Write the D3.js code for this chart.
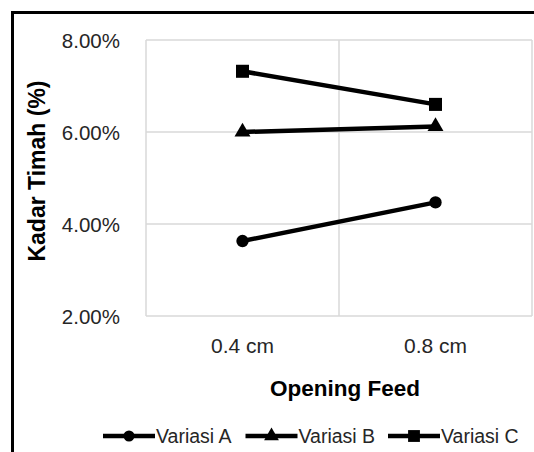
<!DOCTYPE html>
<html>
<head>
<meta charset="utf-8">
<script src="https://cdn.jsdelivr.net/npm/d3@7"></script>
<style>
  html, body { margin: 0; padding: 0; background: #fff; }
  svg { display: block; font-family: "Liberation Sans", Arial, sans-serif; }
</style>
</head>
<body>
<svg id="chart" width="534" height="452"></svg>
<script>
// Tin content (%) by feed opening, three trial variations
const categories = ["0.4 cm", "0.8 cm"];
const variasiA = [3.63, 4.47];
const variasiB = [6.00, 6.12];
const variasiC = [7.32, 6.60];
const seriesNames = ["Variasi A", "Variasi B", "Variasi C"];
const yTicks = [2, 4, 6, 8];

const series = [
  { name: seriesNames[0], values: variasiA, symbol: d3.symbolCircle, size: 120, legendSize: 95 },
  { name: seriesNames[1], values: variasiB, symbol: d3.symbolTriangle, size: 110, legendSize: 95 },
  { name: seriesNames[2], values: variasiC, symbol: d3.symbolSquare, size: 170, legendSize: 140 }
];

const svg = d3.select("#chart");
const plot = { left: 146, top: 40, right: 532, bottom: 316 };

const x = d3.scaleBand().domain(categories).range([plot.left, plot.right]);
const y = d3.scaleLinear().domain([2, 8]).range([plot.bottom, plot.top]);

// outer frame (runs off the right and bottom edges)
svg.append("rect")
  .attr("x", 12.5).attr("y", 12.5)
  .attr("width", 700).attr("height", 700)
  .attr("fill", "none").attr("stroke", "#000").attr("stroke-width", 3);

// gridlines
const grid = svg.append("g").attr("stroke", "#d9d9d9").attr("stroke-width", 1.5);
grid.selectAll("line.h").data(yTicks).join("line")
  .attr("x1", plot.left).attr("x2", plot.right)
  .attr("y1", d => y(d)).attr("y2", d => y(d));
const vLines = [plot.left, ...categories.slice(1).map(c => x(c)), plot.right];
grid.selectAll("line.v").data(vLines).join("line")
  .attr("x1", d => d).attr("x2", d => d)
  .attr("y1", plot.top).attr("y2", plot.bottom);

// y axis labels
const yAxis = svg.append("g")
  .attr("transform", `translate(${plot.left - 26},0)`)
  .call(d3.axisLeft(y).tickValues(yTicks).tickSize(0).tickFormat(d => d3.format(".2f")(d) + "%"));
yAxis.select(".domain").remove();
yAxis.selectAll("text")
  .attr("font-family", "Liberation Sans, Arial, sans-serif")
  .attr("font-size", 20.5).attr("fill", "#262626").attr("dy", "0.35em").attr("x", 0);

// x axis labels
const xAxis = svg.append("g")
  .attr("transform", `translate(0,${plot.bottom + 22})`)
  .call(d3.axisBottom(x).tickSize(0));
xAxis.select(".domain").remove();
xAxis.selectAll("text")
  .attr("font-family", "Liberation Sans, Arial, sans-serif")
  .attr("font-size", 21).attr("fill", "#262626").attr("dy", "0.71em").attr("y", 0);

// axis titles
svg.append("text")
  .attr("x", 345).attr("y", 396)
  .attr("text-anchor", "middle")
  .attr("font-size", 22.5).attr("font-weight", "bold").attr("fill", "#000")
  .text("Opening Feed");

svg.append("text")
  .attr("transform", "translate(45,171) rotate(-90)")
  .attr("text-anchor", "middle")
  .attr("font-size", 23).attr("font-weight", "bold").attr("fill", "#000")
  .text("Kadar Timah (%)");

// series lines and markers
const cx = c => x(c) + x.bandwidth() / 2;
const line = d3.line().x(d => cx(d.cat)).y(d => y(d.v));

series.forEach(s => {
  const pts = s.values.map((v, i) => ({ cat: categories[i], v }));
  svg.append("path")
    .datum(pts)
    .attr("d", line)
    .attr("fill", "none").attr("stroke", "#000").attr("stroke-width", 4.5);
  svg.selectAll(null).data(pts).join("path")
    .attr("d", d3.symbol().type(s.symbol).size(s.size))
    .attr("transform", d => `translate(${cx(d.cat)},${y(d.v)})`)
    .attr("fill", "#000");
});

// legend
const legend = svg.append("g").attr("transform", "translate(103,436)");
series.forEach((s, i) => {
  const g = legend.append("g").attr("transform", `translate(${i * 142.5},0)`);
  g.append("line").attr("x1", 0).attr("x2", 52).attr("y1", 0).attr("y2", 0)
    .attr("stroke", "#000").attr("stroke-width", 4.5);
  g.append("path")
    .attr("d", d3.symbol().type(s.symbol).size(s.legendSize))
    .attr("transform", "translate(26,0)")
    .attr("fill", "#000");
  g.append("text")
    .attr("x", 53).attr("y", 0).attr("dy", "0.36em")
    .attr("font-size", 19.5).attr("fill", "#262626")
    .text(s.name);
});
</script>
</body>
</html>
